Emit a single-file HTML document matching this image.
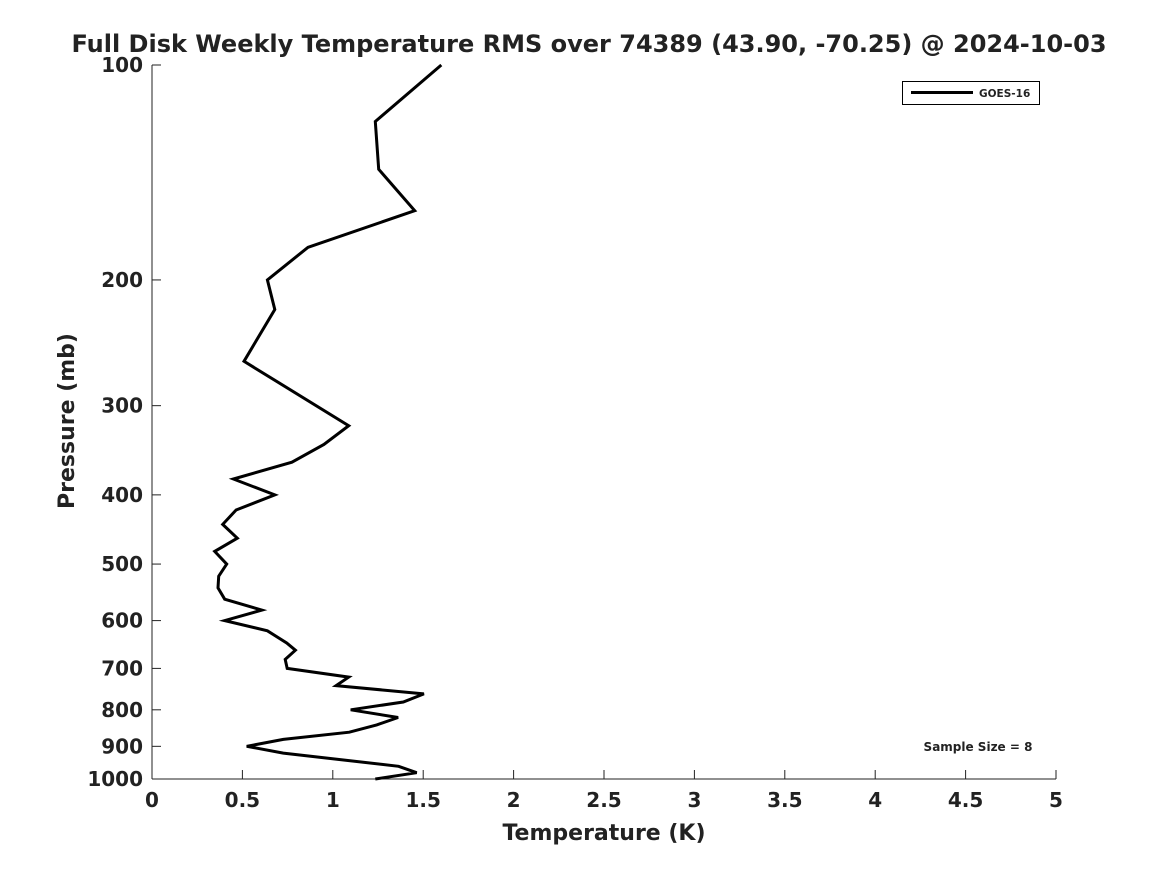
<!DOCTYPE html>
<html><head><meta charset="utf-8"><style>
html,body{margin:0;padding:0;background:#fff;}
svg text{font-family:"DejaVu Sans","Liberation Sans",sans-serif;font-weight:bold;fill:#222;}
</style></head><body>
<svg id="chart" width="1167" height="875" viewBox="0 0 1167 875" xmlns="http://www.w3.org/2000/svg">
<rect width="1167" height="875" fill="#fff"/>
<text x="589" y="52" font-size="24" text-anchor="middle" fill="#000">Full Disk Weekly Temperature RMS over 74389 (43.90, -70.25) @ 2024-10-03</text>
<g id="axes"></g>
<g id="series"></g>
<text transform="translate(74,421) rotate(-90)" font-size="22" text-anchor="middle">Pressure (mb)</text>
<text x="604" y="840" font-size="22" text-anchor="middle">Temperature (K)</text>
<g>
<rect x="902.5" y="81.5" width="137" height="23" fill="#fff" stroke="#000" stroke-width="1"/>
<line x1="911" y1="92.5" x2="973" y2="92.5" stroke="#000" stroke-width="3"/>
<text x="979" y="97" font-size="10.5" fill="#000">GOES-16</text>
</g>
<text x="978" y="751" font-size="12" text-anchor="middle" fill="#000">Sample Size = 8</text>
</svg>
<script>
const pressures = [100,120,140,160,180,200,220,260,320,340,360,380,400,420,440,460,480,500,520,540,560,580,600,620,645,660,680,700,720,740,760,780,800,820,840,860,880,900,920,960,980,1000];
const rmsGoes16 = [1.60,1.235,1.254,1.453,0.863,0.638,0.679,0.509,1.088,0.951,0.774,0.450,0.679,0.465,0.391,0.472,0.347,0.413,0.369,0.365,0.402,0.608,0.402,0.638,0.745,0.793,0.737,0.748,1.088,1.018,1.504,1.390,1.099,1.361,1.243,1.091,0.726,0.524,0.726,1.364,1.464,1.235];
const xTicks = [0,0.5,1,1.5,2,2.5,3,3.5,4,4.5,5];
const xTickLabels = ["0","0.5","1","1.5","2","2.5","3","3.5","4","4.5","5"];
const yTicks = [100,200,300,400,500,600,700,800,900,1000];
const yTickLabels = ["100","200","300","400","500","600","700","800","900","1000"];

const X0=152,X1=1056,Y0=65,Y1=779;
function xs(v){return X0+(v-0)/(5-0)*(X1-X0);}
function ys(p){return Y0+(Math.log10(p)-2)/(1)*(Y1-Y0);}
const NS="http://www.w3.org/2000/svg";
const axes=document.getElementById('axes');
function mk(tag,attrs,parent){const e=document.createElementNS(NS,tag);for(const k in attrs)e.setAttribute(k,attrs[k]);parent.appendChild(e);return e;}
let l=mk('line',{x1:X0,y1:Y0,x2:X0,y2:Y1,stroke:'#222','stroke-width':1},axes);


l=mk('line',{x1:X0,y1:Y1,x2:X1,y2:Y1,stroke:'#222','stroke-width':1},axes);


xTicks.forEach((v,i)=>{
  const x=xs(v);
  const t=mk('line',{x1:x,y1:Y1,x2:x,y2:Y1-9,stroke:'#222','stroke-width':1},axes);
  
  
  const tx=mk('text',{x:x,y:807,'font-size':20,'text-anchor':'middle'},axes);
  tx.textContent=xTickLabels[i];
  
  
});
yTicks.forEach((p,i)=>{
  const y=ys(p);
  const t=mk('line',{x1:X0,y1:y,x2:X0+9,y2:y,stroke:'#222','stroke-width':1},axes);
  
  
  const tx=mk('text',{x:143,y:y+7,'font-size':20,'text-anchor':'end'},axes);
  tx.textContent=yTickLabels[i];
  
  
});
const pts=pressures.map((p,i)=>xs(rmsGoes16[i]).toFixed(1)+','+ys(p).toFixed(1)).join(' ');
const pl=mk('polyline',{points:pts,fill:'none',stroke:'#000','stroke-width':3,'stroke-linejoin':'miter'},document.getElementById('series'));


</script>
</body></html>
